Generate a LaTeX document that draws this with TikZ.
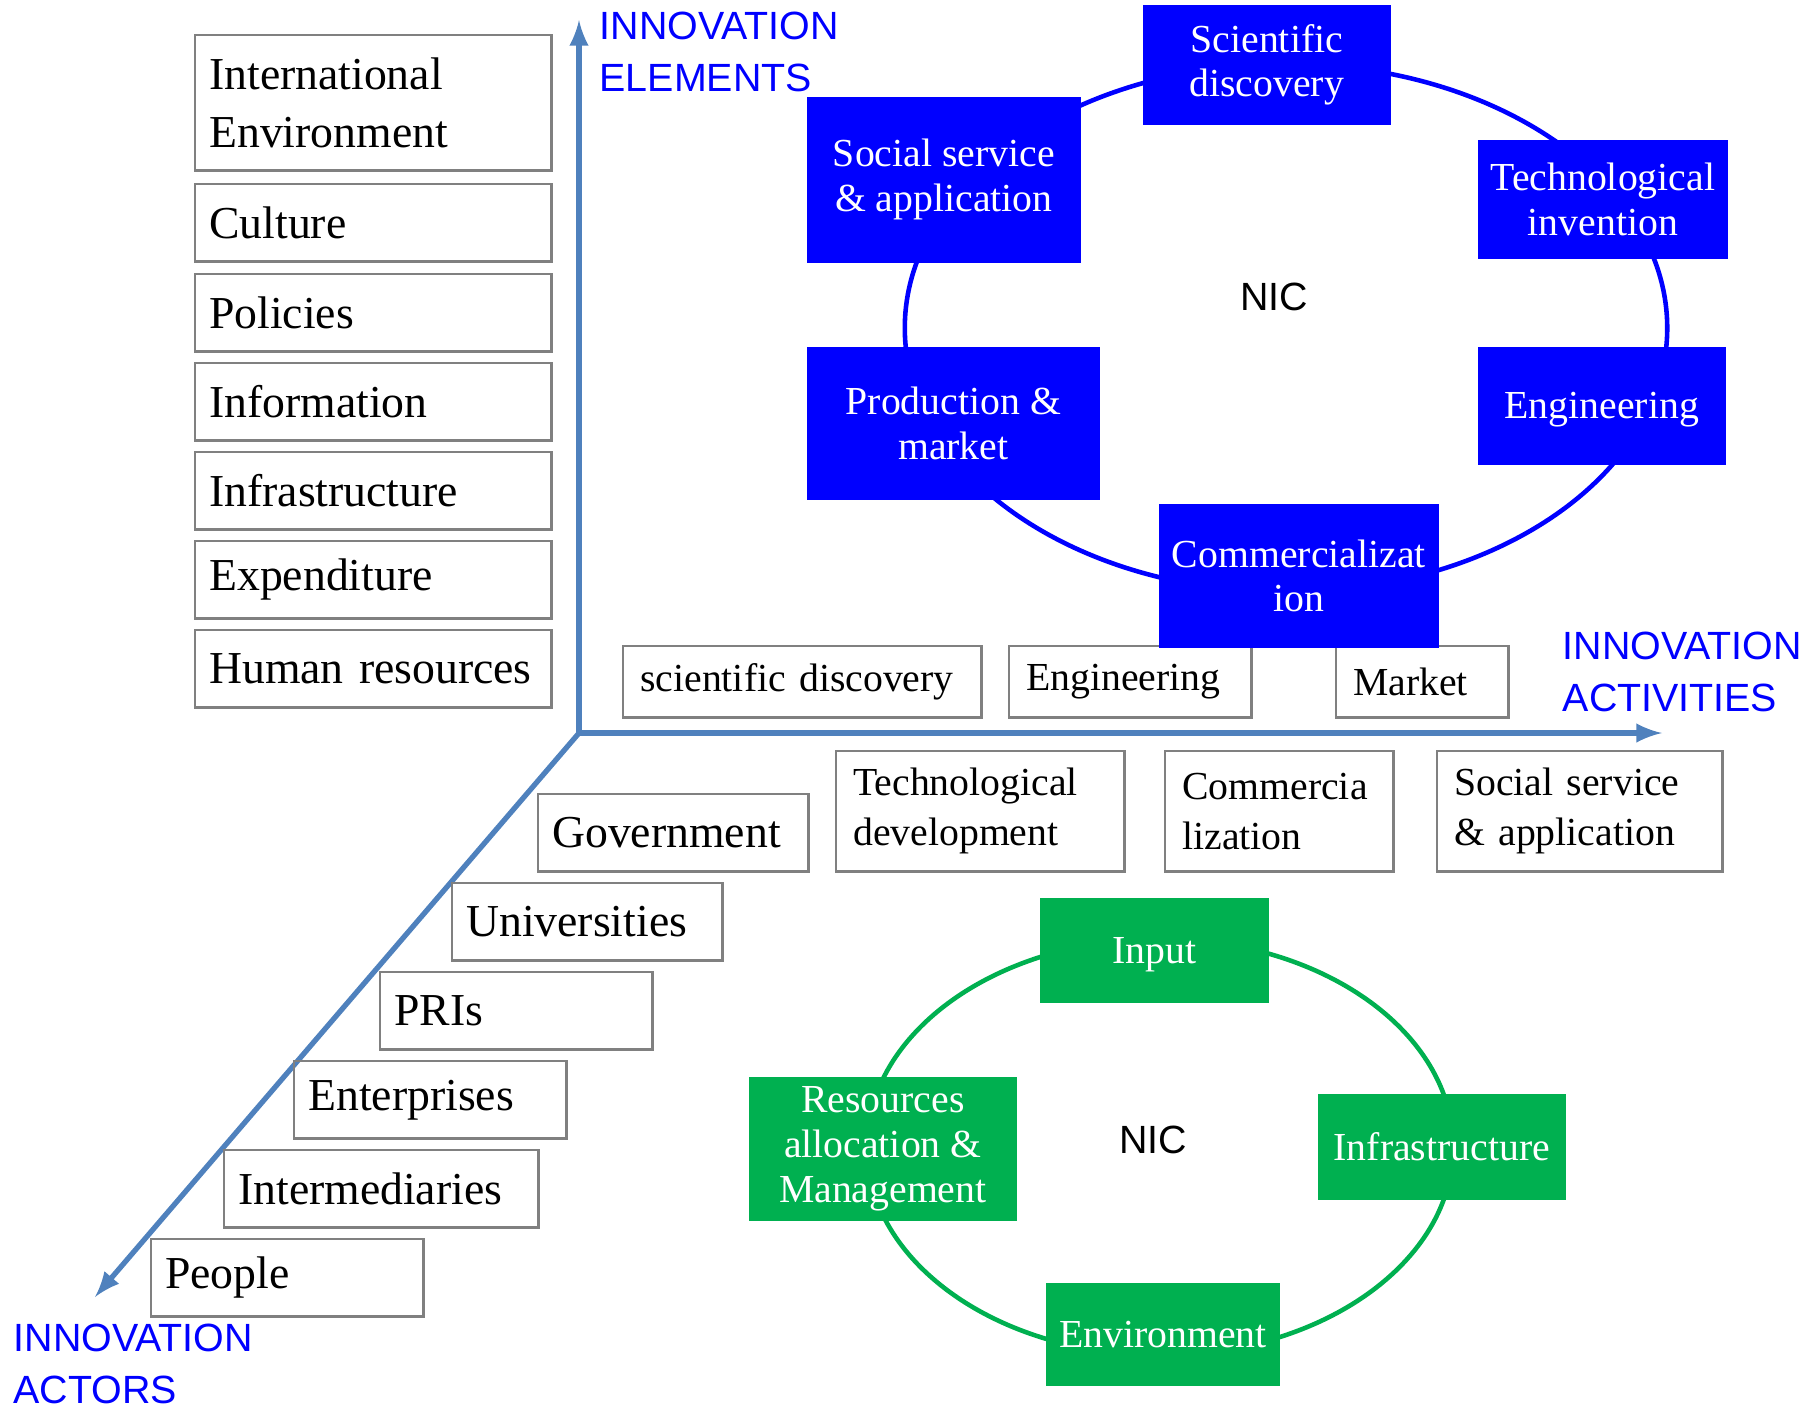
\documentclass[tikz,border=0pt]{standalone}
\usepackage{fontspec}
\setmainfont{Liberation Serif}
\setsansfont{Liberation Sans}
\usetikzlibrary{arrows,shapes}
\definecolor{axisblue}{HTML}{4F81BD}
\definecolor{nicblue}{HTML}{0000FF}
\definecolor{nicgreen}{HTML}{00B050}
\definecolor{boxgray}{HTML}{808080}
\newcommand{\bigtext}{\fontsize{13}{16.4}\selectfont}
\newcommand{\midtext}{\fontsize{11.3}{14.2}\selectfont}
\newcommand{\cycletext}{\fontsize{11.3}{12.7}\selectfont}
\newcommand{\labeltext}{\sffamily\fontsize{11.2}{14.7}\selectfont}
\tikzset{%
	elembox/.style  = {draw=boxgray, line width=0.7pt, anchor=north west, inner xsep=0.14cm, inner ysep=0pt, align=left, minimum height=0.77cm, font=\bigtext},
	actbox/.style   = {draw=boxgray, line width=0.7pt, anchor=north west, inner xsep=0.17cm, inner ysep=0pt, align=left, minimum height=0.71cm, font=\midtext},
	bluebox/.style  = {fill=nicblue, text=white, anchor=north west, inner sep=0pt, align=center, font=\cycletext},
	greenbox/.style = {fill=nicgreen, text=white, anchor=north west, inner sep=0pt, align=center, font=\cycletext},
	axis/.style     = {line width=1.5pt, draw=axisblue, -latex},
	axislabel/.style= {text=nicblue, font=\labeltext, align=left, anchor=base west, inner sep=0pt},
}

\begin{document}
\begin{tikzpicture}[x=0.01cm,y=-0.01cm]
			\useasboundingbox (0,0) rectangle (1810,1408);
			% three axes
			\coordinate (origin) at (579,733);
			\coordinate (elemtip) at (579,20);
			\coordinate (acttip) at (1662,733);
			\coordinate (actortip) at (95,1297);
			\draw[axis] (origin) -- (elemtip);
			\draw[axis] (origin) -- (acttip);
			\draw[axis] (origin) -- (actortip);
			\node[axislabel] (elemlabel) at (599,91) {INNOVATION\\ELEMENTS};
			\node[axislabel] (actlabel) at (1562,711) {INNOVATION\\ACTIVITIES};
			\node[axislabel] (actorlabel) at (13,1403) {INNOVATION\\ACTORS};
			
			% innovation elements
			\node[elembox, text width=3.28cm, minimum height=1.35cm] (intenv) at (194,34) {International\\Environment};
			\node[elembox, text width=3.28cm] (culture) at (194,183) {Culture};
			\node[elembox, text width=3.28cm] (policies) at (194,273) {Policies};
			\node[elembox, text width=3.28cm] (information) at (194,362) {Information};
			\node[elembox, text width=3.28cm] (infra) at (194,451) {Infrastructure};
			\node[elembox, text width=3.28cm] (expend) at (194,540) {Expenditure};
			\node[elembox, text width=3.28cm] (human) at (194,629) {Human resources};
			
			% innovation actors
			\node[elembox, text width=2.42cm] (gov) at (537,793) {Government};
			\node[elembox, text width=2.42cm] (univ) at (451,882) {Universities};
			\node[elembox, text width=2.44cm] (pris) at (379,971) {PRIs};
			\node[elembox, text width=2.44cm] (enter) at (293,1060) {Enterprises};
			\node[elembox, text width=2.86cm] (inter) at (223,1149) {Intermediaries};
			\node[elembox, text width=2.44cm] (people) at (150,1238) {People};
			
			% innovation activities
			\node[actbox, text width=3.24cm] (scidisc) at (622,645) {scientific discovery};
			\node[actbox, text width=2.08cm] (eng) at (1008,645) {Engineering};
			\node[actbox, text width=1.38cm] (market) at (1335,645) {Market};
			\node[actbox, text width=2.54cm, minimum height=1.2cm] (techdev) at (835,750) {Technological\\development};
			\node[actbox, text width=1.94cm, minimum height=1.2cm] (comm) at (1164,750) {Commercia\\lization};
			\node[actbox, text width=2.51cm, minimum height=1.2cm] (socapp) at (1436,750) {Social service\\\& application};
			
			% NIC of activities
			\draw[nicblue, line width=1.3pt] (1286,328) ellipse [x radius=3.81cm, y radius=2.64cm];
			\node[font=\labeltext] (nictop) at (1274,297) {NIC};
			\node[bluebox, minimum width=2.48cm, minimum height=1.2cm] (scibox) at (1142,4) {Scientific\\discovery};
			\node[bluebox, minimum width=2.74cm, minimum height=1.66cm] (socbox) at (806,96) {Social service\\\& application};
			\node[bluebox, minimum width=2.5cm, minimum height=1.19cm] (techbox) at (1477,139) {Technological\\invention};
			\node[bluebox, minimum width=2.93cm, minimum height=1.53cm] (prodbox) at (806,346) {Production \&\\market};
			\node[bluebox, minimum width=2.48cm, minimum height=1.18cm, text depth=0pt] (engbox) at (1477,346) {Engineering};
			\node[bluebox, minimum width=2.8cm, minimum height=1.44cm] (commbox) at (1158,503) {Commercializat\\ion};
			
			% NIC of elements
			\draw[nicgreen, line width=1.3pt] (1160,1147) ellipse [x radius=2.93cm, y radius=2.08cm];
			\node[font=\labeltext] (nicbottom) at (1153,1140) {NIC};
			\node[greenbox, minimum width=2.29cm, minimum height=1.05cm, text depth=0pt] (input) at (1039,897) {Input};
			\node[greenbox, minimum width=2.34cm, minimum height=1.03cm, text depth=0pt] (environ) at (1045,1282) {Environment};
			\node[greenbox, minimum width=2.68cm, minimum height=1.44cm] (resources) at (748,1076) {Resources\\allocation \&\\Management};
			\node[greenbox, minimum width=2.48cm, minimum height=1.06cm, text depth=0pt] (infragreen) at (1317,1093) {Infrastructure};
\end{tikzpicture}
\end{document}
